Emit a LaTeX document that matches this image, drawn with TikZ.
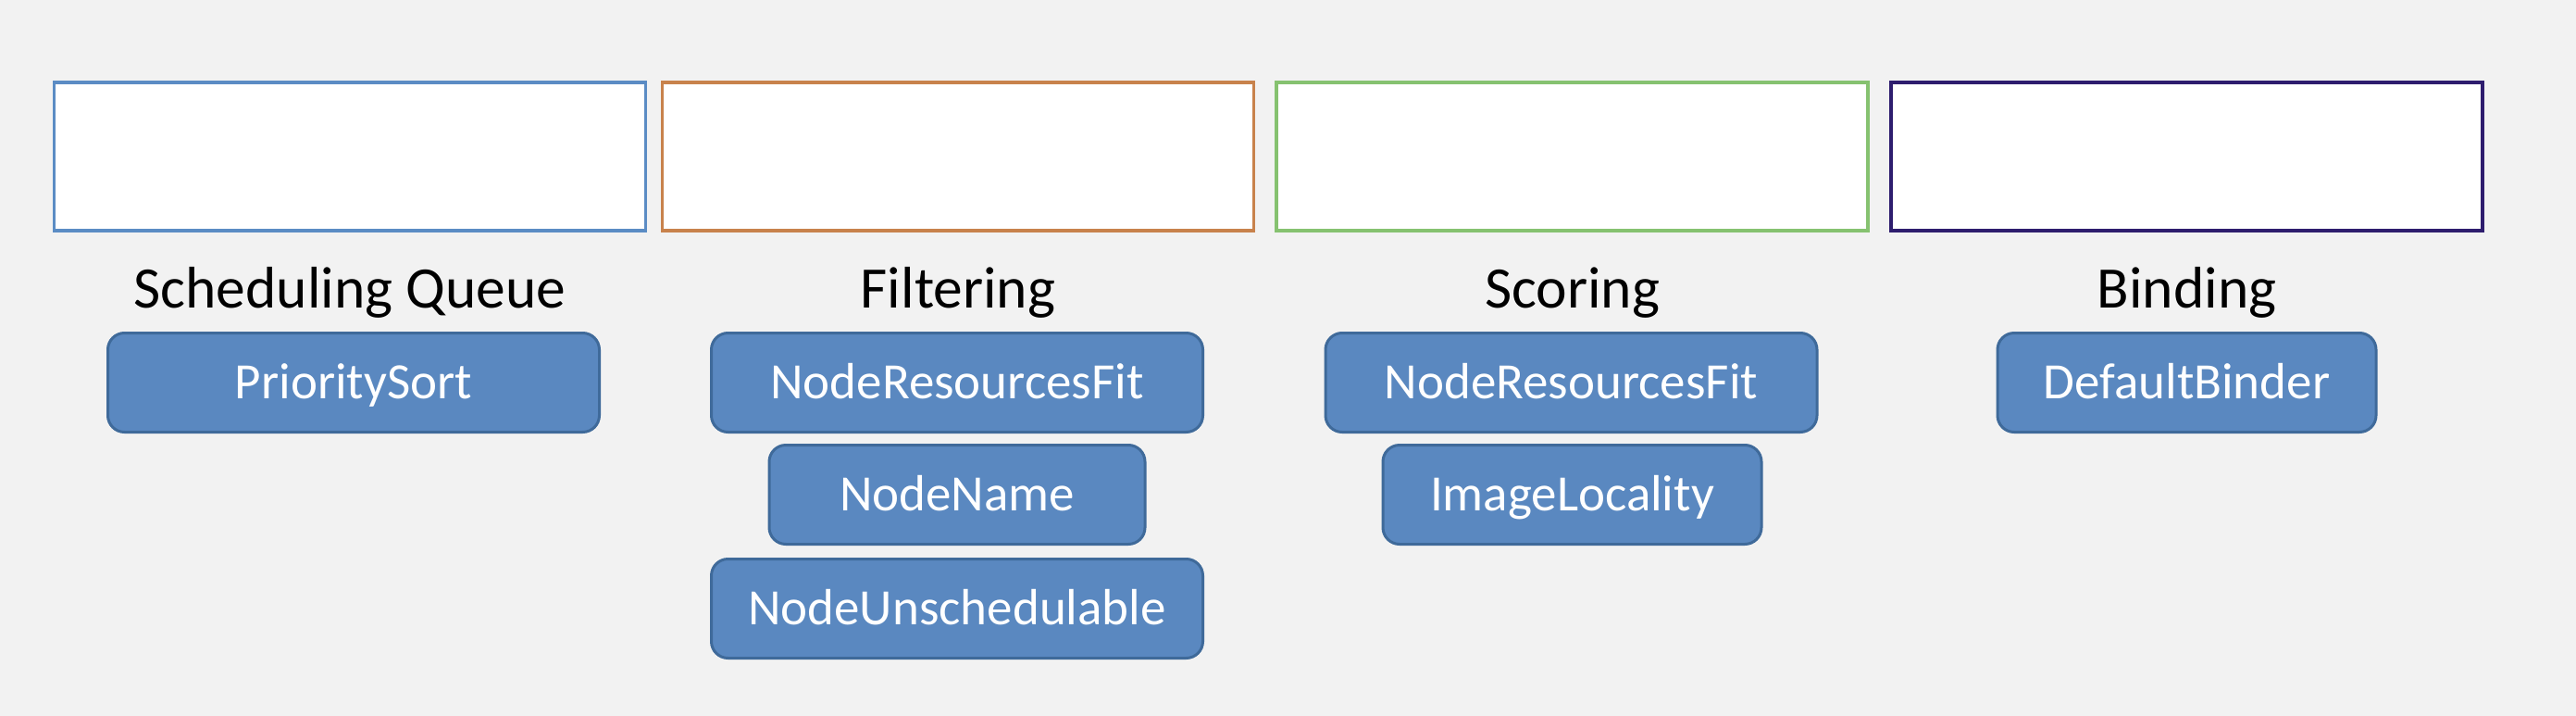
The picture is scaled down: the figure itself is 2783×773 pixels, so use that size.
\documentclass[tikz,border=0pt]{standalone}
\usepackage{fontspec}
\setmainfont{Carlito}
\definecolor{bgc}{HTML}{F2F2F2}
\definecolor{pillfill}{HTML}{5A88C0}
\definecolor{pilldraw}{HTML}{3F6A9A}
\definecolor{cblue}{HTML}{5B8CC4}
\definecolor{corange}{HTML}{C8824C}
\definecolor{cgreen}{HTML}{86C270}
\definecolor{cnavy}{HTML}{2E1D6E}
\tikzset{
  stagebox/.style={draw=#1, fill=white, line width=3.5pt, minimum width=639pt, minimum height=160pt, inner sep=0pt},
  stagelabel/.style={font=\fontsize{63.5}{70}\selectfont, text=black, inner sep=0pt, text height=40pt, text depth=0pt},
  pill/.style={draw=pilldraw, fill=pillfill, line width=3pt, rounded corners=18pt, minimum height=107pt, inner sep=0pt, text=white, font=\fontsize{55}{60}\selectfont, text height=35pt, text depth=0pt}
}
\begin{document}
\begin{tikzpicture}[x=1pt,y=-1pt]
\fill[bgc] (0,0) rectangle (2783,773);
\useasboundingbox (0,0) rectangle (2783,773);

\node[stagebox=cblue] (b1) at (378,169) {};
\node[stagebox=corange] (b2) at (1035,169) {};
\node[stagebox=cgreen] (b3) at (1698.5,169) {};
\node[stagebox=cnavy] (b4) at (2362.5,169) {};

\node[stagelabel] (l1) at (378,312) {Scheduling Queue};
\node[stagelabel] (l2) at (1035,312) {Filtering};
\node[stagelabel] (l3) at (1698.5,312) {Scoring};
\node[stagelabel] (l4) at (2362.5,312) {Binding};

\node[pill, minimum width=531pt] (p1) at (382,413) {PrioritySort};
\node[pill, minimum width=531pt] (f1) at (1034,413) {NodeResourcesFit};
\node[pill, minimum width=406pt] (f2) at (1034,534) {NodeName};
\node[pill, minimum width=531pt] (f3) at (1034,657) {NodeUnschedulable};
\node[pill, minimum width=531pt] (s1) at (1697.5,413) {NodeResourcesFit};
\node[pill, minimum width=409pt] (s2) at (1698.5,534) {ImageLocality};
\node[pill, minimum width=409pt] (d1) at (2362.5,413) {DefaultBinder};
\end{tikzpicture}
\end{document}
